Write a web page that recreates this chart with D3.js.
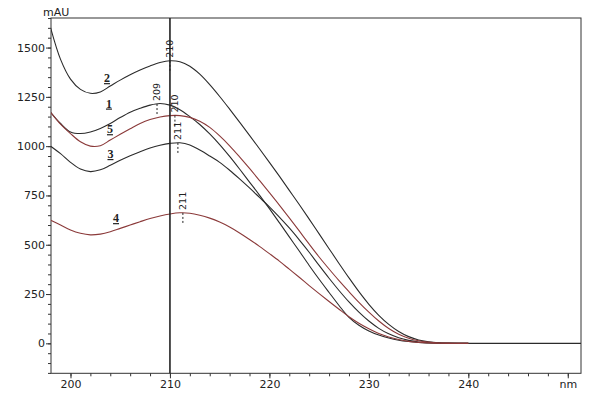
<!DOCTYPE html>
<html>
<head>
<meta charset="utf-8">
<script src="https://cdn.jsdelivr.net/npm/d3@7"></script>
<style>
  body { margin: 0; background: #fff; }
  svg { display: block; }
  .tick text, .unit { font-family: "DejaVu Sans", sans-serif; font-size: 11px; fill: #222; }
  .peak text { font-family: "DejaVu Sans", sans-serif; font-size: 9.5px; fill: #222; }
  .num { font-family: "Liberation Serif", serif; font-weight: bold; font-size: 12px; fill: #222; text-decoration: underline; }
</style>
</head>
<body>
<svg id="chart" width="600" height="399"></svg>
<script>
// wavelengths in nm, 1 nm steps
const wavelengths = d3.range(198, 253)

// absorbance (mAU) per spectrum, starting at 198 nm
const spec1 = [1172, 1115, 1072, 1064, 1072, 1090, 1115, 1145, 1172, 1192, 1208, 1216, 1208, 1185, 1150, 1110, 1062, 1008, 948, 884, 818, 752, 683, 612, 540, 468, 395, 325, 258, 192, 132, 92, 63, 42, 27, 16, 9, 4, 2, 1, 0, 0, 0]
const spec2 = [1600, 1440, 1340, 1288, 1268, 1275, 1305, 1335, 1362, 1386, 1407, 1424, 1433, 1428, 1405, 1365, 1312, 1252, 1188, 1122, 1055, 987, 918, 848, 776, 704, 630, 555, 480, 405, 332, 262, 198, 142, 96, 60, 34, 17, 8, 3, 1, 0, 0, 0, 0, 0, 0, 0, 0, 0, 0, 0, 0, 0, 0]
const spec3 = [1000, 962, 918, 884, 871, 880, 903, 928, 951, 972, 991, 1005, 1014, 1017, 1006, 980, 950, 918, 878, 834, 788, 740, 692, 640, 585, 525, 462, 395, 330, 268, 210, 158, 113, 76, 48, 28, 15, 7, 3, 1, 0, 0, 0]
const spec4 = [625, 600, 575, 558, 550, 554, 566, 583, 600, 617, 633, 646, 656, 662, 660, 650, 635, 615, 590, 560, 527, 492, 455, 417, 376, 335, 293, 252, 212, 173, 135, 102, 74, 50, 32, 19, 10, 5, 2, 1, 0, 0, 0]
const spec5 = [1172, 1112, 1064, 1022, 1000, 1002, 1031, 1060, 1088, 1115, 1135, 1148, 1155, 1155, 1146, 1126, 1095, 1052, 1002, 946, 887, 826, 764, 701, 636, 570, 503, 438, 377, 318, 262, 208, 158, 113, 75, 46, 26, 13, 6, 2, 1, 0, 0]

const specNames = ['1', '2', '3', '4', '5']
const specValues = [spec1, spec2, spec3, spec4, spec5]
const specColors = ['#2b2b2b', '#2b2b2b', '#2b2b2b', '#8b3a3a', '#8b3a3a']

// peak apex labels
const peakNm = [208.7, 210, 210.8, 211.3, 210.5]
const peakText = ['209', '210', '211', '211', '210']

// where the spectrum numbers are written (nm, mAU)
const numNm = [203.87, 203.67, 204.02, 204.58, 203.97]
const numVal = [1196, 1325, 940, 615, 1066]

const xMajor = [200, 210, 220, 230, 240, 250]
const xMinor = d3.range(200, 252, 2)
const yMajor = [0, 250, 500, 750, 1000, 1250, 1500]
const yMinor = d3.range(-150, 1651, 50)
const cursorNm = 210

const margin = { left: 51, right: 19, top: 18, bottom: 25.7 }
const width = 600, height = 399

const svg = d3.select('#chart')

const x = d3.scaleLinear()
  .domain([198.04, 251.33])
  .range([margin.left, width - margin.right])

const y = d3.scaleLinear()
  .domain([-152, 1650])
  .range([height - margin.bottom, margin.top])

svg.append('defs').append('clipPath').attr('id', 'plot')
  .append('rect')
  .attr('x', x.range()[0]).attr('y', y.range()[1])
  .attr('width', x.range()[1] - x.range()[0])
  .attr('height', y.range()[0] - y.range()[1])

// minor ticks first, majors on top
svg.append('g')
  .attr('transform', `translate(0,${y.range()[0]})`)
  .call(d3.axisBottom(x).tickValues(xMinor).tickSize(3).tickFormat(''))
  .call(g => g.select('.domain').remove())

svg.append('g')
  .attr('transform', `translate(0,${y.range()[0]})`)
  .call(d3.axisBottom(x).tickValues(xMajor).tickSize(5).tickPadding(2)
    .tickFormat(d => d === 250 ? 'nm' : d))
  .call(g => g.select('.domain').remove())

svg.append('g')
  .attr('transform', `translate(${x.range()[0]},0)`)
  .call(d3.axisLeft(y).tickValues(yMinor).tickSize(3).tickFormat(''))
  .call(g => g.select('.domain').remove())

svg.append('g')
  .attr('transform', `translate(${x.range()[0]},0)`)
  .call(d3.axisLeft(y).tickValues(yMajor).tickSize(5).tickPadding(1).tickFormat(d3.format('d')))
  .call(g => g.select('.domain').remove())

svg.selectAll('.tick line').attr('stroke', '#333')

svg.append('text').attr('class', 'unit')
  .attr('x', 43).attr('y', 16)
  .text('mAU')

// frame
svg.append('rect')
  .attr('x', x.range()[0]).attr('y', y.range()[1])
  .attr('width', x.range()[1] - x.range()[0])
  .attr('height', y.range()[0] - y.range()[1])
  .attr('fill', 'none')
  .attr('stroke', '#333')

const line = d3.line()
  .defined(d => d[1] != null)
  .x(d => x(d[0]))
  .y(d => y(d[1]))
  .curve(d3.curveCatmullRom.alpha(0.5))

const plot = svg.append('g').attr('clip-path', 'url(#plot)')

specValues.forEach((vals, i) => {
  plot.append('path')
    .datum(vals.map((v, j) => [wavelengths[j], v]))
    .attr('d', line)
    .attr('fill', 'none')
    .attr('stroke', specColors[i])
    .attr('stroke-width', 1.1)
})

// cursor line
svg.append('line')
  .attr('x1', x(cursorNm)).attr('x2', x(cursorNm))
  .attr('y1', y.range()[1]).attr('y2', y.range()[0])
  .attr('stroke', '#222')
  .attr('stroke-width', 1.6)

// value of a spectrum at a wavelength
const valueAt = (vals, nm) => {
  const i = Math.floor(nm - wavelengths[0])
  const t = nm - wavelengths[i]
  return vals[i] + (vals[i + 1] - vals[i]) * t
}

const peaks = svg.append('g').attr('class', 'peak')
specValues.forEach((vals, i) => {
  const px = x(peakNm[i])
  const py = y(valueAt(vals, peakNm[i]))
  peaks.append('line')
    .attr('x1', px).attr('x2', px)
    .attr('y1', py + 10).attr('y2', py - 2)
    .attr('stroke', '#222')
    .attr('stroke-dasharray', '2,2')
  peaks.append('text')
    .attr('transform', `translate(${px},${py - 3}) rotate(-90)`)
    .attr('dy', '0.35em')
    .text(peakText[i])
})

svg.append('g').selectAll('text')
  .data(specNames)
  .join('text')
  .attr('class', 'num')
  .attr('text-anchor', 'middle')
  .attr('x', (d, i) => x(numNm[i]))
  .attr('y', (d, i) => y(numVal[i]))
  .text(d => d)
</script>
</body>
</html>
